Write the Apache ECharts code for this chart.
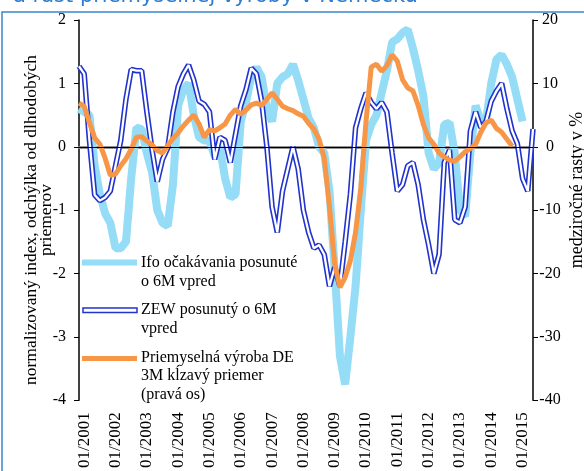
<!DOCTYPE html>
<html>
<head>
<meta charset="utf-8">
<script src="https://cdn.jsdelivr.net/npm/echarts/dist/echarts.min.js"></script>
<style>
  html, body { margin: 0; padding: 0; background: #fff; }
  #chart { width: 584px; height: 471px; }
</style>
</head>
<body>
<div id="chart"></div>
<script>
// bi-monthly points, 11/2000 .. 05/2015
var months = [];
for (var i = 0; i < 88; i++) {
  var m = 10 + 2 * i;
  months.push(String(m % 12 + 1).padStart(2, '0') + '/' + (2000 + Math.floor(m / 12)));
}

// Ifo ocakavania posunute o 6M vpred (lava os)
var ifo = [
  0.6, 0.55, 0.5, -0.3, -0.75, -1.05, -1.2, -1.6, -1.6, -1.5,
  -0.5, 0.3, 0.28, -0.1, -0.4, -1.0, -1.2, -1.25, -0.6, 0.65,
  0.9, 1.0, 0.5, 0.15, 0.1, 0.1, -0.15, 0.0, -0.5, -0.8,
  -0.75, 0.4, 0.7, 1.1, 1.25, 1.1, 0.6, 0.4, 1.0, 1.1,
  1.15, 1.3, 1.05, 0.75, 0.45, 0.3, 0.0, -0.1, -0.7, -1.95,
  -3.3, -3.75, -3.0, -2.2, -1.0, 0.1, 0.35, 0.5, 0.85, 1.2,
  1.65, 1.7, 1.8, 1.85, 1.55, 1.2, 0.8, -0.1, -0.35, -0.25,
  0.35, 0.38, -0.1, -1.0, -1.1, -0.1, 0.65, 0.4, 0.4, 1.0,
  1.38, 1.45, 1.3, 1.1, 0.75, 0.4, null, null
];

// ZEW posunuty o 6M vpred (lava os)
var zew = [
  1.27, 1.15, 0.1, -0.76, -0.85, -0.8, -0.7, -0.3, 0.1, 0.75,
  1.22, 1.2, 1.2, 0.55, -0.05, -0.55, -0.2, -0.02, 0.55, 0.95,
  1.15, 1.29, 1.05, 0.72, 0.67, 0.55, -0.2, 0.15, 0.1, -0.25,
  0.2, 0.65, 0.9, 1.24, 1.15, 0.72, 0.0, -0.95, -1.35, -0.7,
  -0.35, 0.0, -0.35, -1.0, -1.35, -1.6, -1.55, -1.7, -2.2, -1.9,
  -2.2, -1.5, -0.75, 0.3, 0.6, 0.85, 0.7, 0.6, 0.7, 0.55,
  -0.1, -0.7, -0.6, -0.3, -0.25, -0.6, -1.15, -1.55, -2.0, -1.7,
  -0.25, -0.05, -1.15, -1.2, -0.95, 0.25, 0.55, 0.3, 0.4, 0.72,
  0.88, 1.0, 0.6, 0.25, 0.05, -0.5, -0.7, 0.28
];

// Priemyselna vyroba DE, 3M klzavy priemer, medzirocne % (prava os)
var vyroba = [
  6.9, 6.4, 3.8, 1.4, 0.4, -1.8, -4.5, -4.3, -3.0, -1.9,
  -0.4, 1.5, 1.6, 0.9, 0.3, -0.6, -1.0, 0.2, 1.3, 2.2,
  3.3, 4.2, 5.0, 3.6, 1.5, 2.7, 2.5, 3.0, 3.6, 5.0,
  5.9, 5.1, 5.8, 6.6, 6.9, 6.5, 7.5, 8.5, 7.5, 6.4,
  6.0, 5.7, 5.2, 4.8, 3.7, 2.8, 1.2, -1.8, -9.5, -18.5,
  -22.2, -20.6, -18.0, -13.5, -6.5, 4.0, 12.6, 13.0, 11.9, 12.8,
  14.5, 13.5, 10.6, 9.3, 8.8, 6.5, 3.5, 1.4, 0.4, -1.0,
  -1.6, -2.1, -2.3, -1.6, -0.8, -0.3, 0.4, 2.3, 3.8, 4.2,
  2.9, 2.3, 1.2, 0.1, null, null, null, null
];

var serif = '"Liberation Serif", "Times New Roman", serif';
var cIfo = '#95dcf6', cZew = '#2233cc', cVyr = '#f79646';

var chart = echarts.init(document.getElementById('chart'));

var option = {
  animation: false,
  grid: { left: 79, right: 51, top: 20, bottom: 65 },
  xAxis: [
    {
      type: 'category',
      data: months,
      boundaryGap: false,
      axisLine: { lineStyle: { color: '#8c8c8c', width: 2.5 } },
      axisTick: { show: false },
      axisLabel: {
        interval: function (idx, val) { return val.indexOf('01/') === 0; },
        rotate: 90,
        margin: 12,
        color: '#000',
        fontFamily: serif,
        fontSize: 17
      }
    },
    {
      // horna hrana grafu
      type: 'category',
      data: months,
      boundaryGap: false,
      position: 'top',
      axisLine: { lineStyle: { color: '#8c8c8c', width: 2.5 } },
      axisTick: { show: false },
      axisLabel: { show: false }
    }
  ],
  yAxis: [
    {
      type: 'value',
      min: -4, max: 2, interval: 1,
      splitLine: { show: false },
      axisLine: { show: true, lineStyle: { color: '#000', width: 1.5 } },
      axisTick: { show: true, length: 5, lineStyle: { color: '#000' } },
      axisLabel: { color: '#000', fontFamily: serif, fontSize: 16, margin: 13 }
    },
    {
      type: 'value',
      min: -40, max: 20, interval: 10,
      position: 'right',
      splitLine: { show: false },
      axisLine: { show: true, lineStyle: { color: '#000', width: 1.5 } },
      axisTick: { show: true, length: 5, lineStyle: { color: '#000' } },
      axisLabel: { color: '#000', fontFamily: serif, fontSize: 16, margin: 17, align: 'center' }
    }
  ],
  series: [
    {
      name: 'Ifo',
      type: 'line',
      data: ifo,
      showSymbol: false,
      lineStyle: { color: cIfo, width: 8 },
      markLine: {
        silent: true,
        symbol: 'none',
        label: { show: false },
        lineStyle: { color: '#000', width: 1, type: 'solid' },
        data: [{ yAxis: 0 }]
      }
    },
    {
      name: 'ZEW',
      type: 'line',
      data: zew,
      showSymbol: false,
      lineStyle: { color: cZew, width: 5.5 }
    },
    {
      name: 'ZEW vnutro',
      type: 'line',
      data: zew,
      showSymbol: false,
      lineStyle: { color: '#fff', width: 2.3 }
    },
    {
      name: 'Priemyselna vyroba',
      type: 'line',
      yAxisIndex: 1,
      data: vyroba,
      showSymbol: false,
      lineStyle: { color: cVyr, width: 5 }
    }
  ],
  graphic: [
    // ramik slajdu
    { type: 'rect', shape: { x: 2, y: 12, width: 620, height: 500 },
      style: { fill: null, stroke: '#3a86cc', lineWidth: 1.5 } },
    { type: 'text', x: 13, y: -3,
      style: { text: 'a rast priemyselnej výroby v Nemecku', fill: '#2e7dd1',
               font: '21px "DejaVu Sans", Verdana, sans-serif', verticalAlign: 'middle' } },
    // nazvy osi
    { type: 'text', x: 39, y: 220, rotation: Math.PI / 2,
      style: { text: 'normalizovaný index, odchýlka od dlhodobých\npriemerov', fill: '#000',
               font: '17.5px ' + serif, align: 'center', verticalAlign: 'middle', lineHeight: 15 } },
    { type: 'text', x: 577, y: 190, rotation: Math.PI / 2,
      style: { text: 'medziročné rasty v %', fill: '#000',
               font: '18px ' + serif, align: 'center', verticalAlign: 'middle' } },
    // legenda
    { type: 'rect', shape: { x: 82, y: 259.5, width: 55, height: 6 }, style: { fill: cIfo } },
    { type: 'text', x: 141, y: 253,
      style: { text: 'Ifo očakávania posunuté\no 6M vpred', fill: '#000',
               font: '16px ' + serif, lineHeight: 19, verticalAlign: 'top' } },
    { type: 'rect', shape: { x: 83, y: 308, width: 54, height: 4.5 },
      style: { fill: '#fff', stroke: cZew, lineWidth: 1.5 } },
    { type: 'text', x: 141, y: 301,
      style: { text: 'ZEW posunutý o 6M\nvpred', fill: '#000',
               font: '16px ' + serif, lineHeight: 18.5, verticalAlign: 'top' } },
    { type: 'rect', shape: { x: 82, y: 356, width: 55, height: 5 }, style: { fill: cVyr } },
    { type: 'text', x: 141, y: 348.5,
      style: { text: 'Priemyselná výroba DE\n3M kĺzavý priemer\n(pravá os)', fill: '#000',
               font: '16px ' + serif, lineHeight: 18.5, verticalAlign: 'top' } }
  ]
};

chart.setOption(option);
</script>
</body>
</html>
